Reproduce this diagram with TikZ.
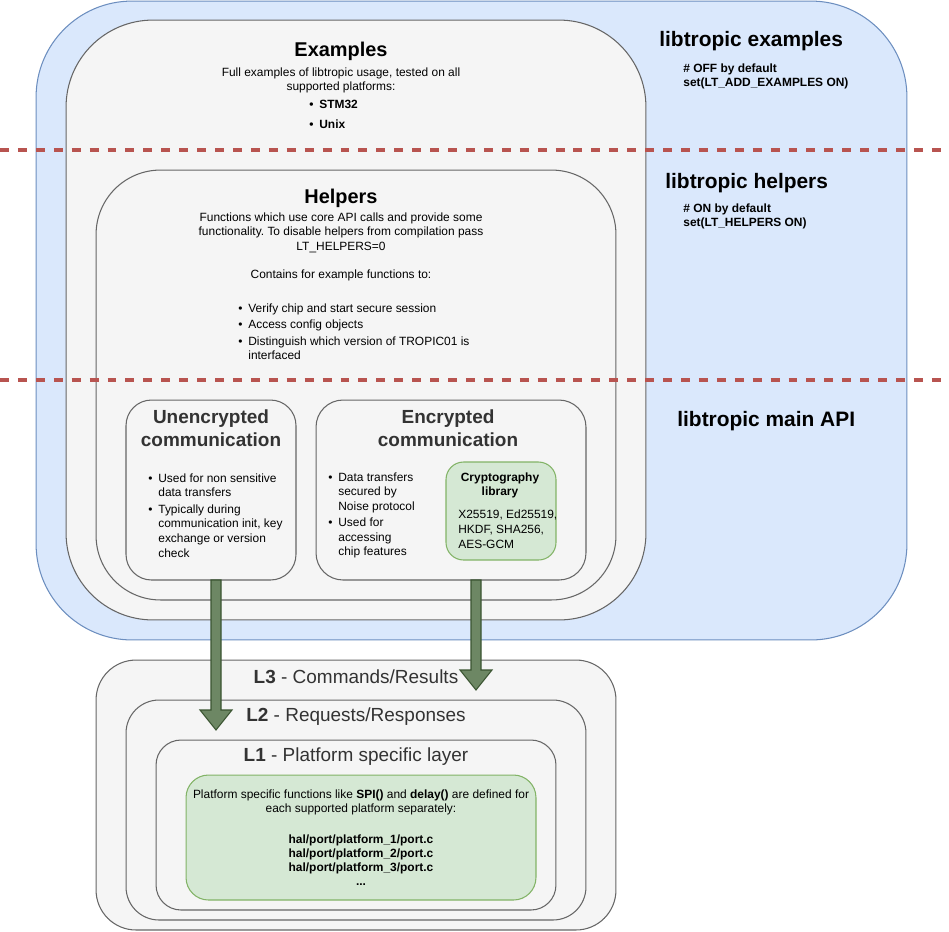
\documentclass[tikz,border=0pt]{standalone}
\usepackage{fontspec}
\setmainfont{Liberation Sans}
\frenchspacing
\usetikzlibrary{calc}

\definecolor{bluefill}{HTML}{DAE8FC}
\definecolor{blueline}{HTML}{6C8EBF}
\definecolor{grayfill}{HTML}{F5F5F5}
\definecolor{grayline}{HTML}{666666}
\definecolor{greenfill}{HTML}{D5E8D4}
\definecolor{greenline}{HTML}{82B366}
\definecolor{flowfill}{HTML}{6D8764}
\definecolor{flowline}{HTML}{3A5431}
\definecolor{redline}{HTML}{B85450}
\definecolor{darktext}{HTML}{333333}

\newcommand{\bul}{\makebox[5.7pt][l]{\textbullet}}
\newcommand{\hang}{\hspace*{5.7pt}}

\tikzset{
  bluebox/.style={draw=blueline, fill=bluefill, line width=0.6pt, inner sep=0, outer sep=0},
  graybox/.style={draw=grayline, fill=grayfill, line width=0.6pt, inner sep=0, outer sep=0},
  greenbox/.style={draw=greenline, fill=greenfill, line width=0.6pt, inner sep=0, outer sep=0},
  flow/.style={draw=flowline, fill=flowfill, line width=0.6pt, line join=miter},
  sepline/.style={draw=redline, line width=1.8pt, dash pattern=on 5.1pt off 5.1pt},
  lbl/.style={inner sep=0, yshift=-0.035cm},
  txt/.style={lbl, font=\fontsize{6.8}{8.3}\selectfont},
  txtb/.style={lbl, font=\bfseries\fontsize{6.8}{8.1}\selectfont},
  bigtitle/.style={lbl, font=\bfseries\fontsize{11.34}{13}\selectfont},
  sidetitle/.style={lbl, font=\bfseries\fontsize{11.9}{13}\selectfont},
  midtitle/.style={lbl, align=center, text=darktext, font=\bfseries\fontsize{10.8}{13}\selectfont},
  layertitle/.style={lbl, text=darktext, font=\fontsize{10.8}{13}\selectfont}
}

\begin{document}
\begin{tikzpicture}[x=0.02cm, y=-0.02cm]
            \useasboundingbox (0,0) rectangle (949,931);

            % the blue area holds everything that is part of libtropic
            \node[bluebox, minimum width=17.42cm, minimum height=12.78cm, rounded corners=1.92cm] (lib) at (471.5,320.5) {};
            \node[graybox, minimum width=11.6cm, minimum height=12cm, rounded corners=1.74cm] (examples) at (356,320) {};
            \node[graybox, minimum width=10.4cm, minimum height=8.6cm, rounded corners=1.29cm] (helpers) at (356,385) {};
            \node[graybox, minimum width=3.4cm, minimum height=3.6cm, rounded corners=0.51cm] (unenc) at (211,490) {};
            \node[graybox, minimum width=5.4cm, minimum height=3.6cm, rounded corners=0.54cm] (enc) at (451,490) {};
            \node[greenbox, minimum width=2.2cm, minimum height=1.96cm, rounded corners=0.35cm] (crypto) at (501,511) {};

            % the three layers below
            \node[graybox, minimum width=10.4cm, minimum height=5.4cm, rounded corners=0.8cm] (lthree) at (356,795) {};
            \node[graybox, minimum width=9.2cm, minimum height=4.4cm, rounded corners=0.66cm] (ltwo) at (356,810) {};
            \node[graybox, minimum width=8cm, minimum height=3.4cm, rounded corners=0.5cm] (lone) at (356,825) {};
            \node[greenbox, minimum width=7cm, minimum height=2.5cm, rounded corners=0.45cm] (port) at (361,837.5) {};

            % labels on the right
            \node[sidetitle, anchor=west] (exlbl) at (659,39) {libtropic examples};
                  \node[txtb, align=left, anchor=west] (exnote) at (683,74.5) {\# OFF by default\\set(LT\_ADD\_EXAMPLES ON)};
            \node[sidetitle, anchor=west] (helplbl) at (665,181) {libtropic helpers};
                  \node[txtb, align=left, anchor=west] (helpnote) at (683,214.5) {\# ON by default\\set(LT\_HELPERS ON)};
            \node[sidetitle, anchor=west] (apilbl) at (677,419) {libtropic main API};

            % examples
            \node[bigtitle] (extitle) at (341,50) {Examples};
            \node[txt, align=center] (exdesc) at (341,78.5) {Full examples of libtropic usage, tested on all\\supported platforms:};
            \node[txtb, align=left, anchor=west] (exlist) at (309,112.5) {\bul STM32\\[3pt]\bul Unix};

            % helpers
            \node[bigtitle] (helptitle) at (341,197) {Helpers};
            \node[txt, align=center] (helpdesc) at (341,231) {Functions which use core API calls and provide some\\functionality. To disable helpers from compilation pass\\LT\_HELPERS=0};
            \node[txt] (helpintro) at (341,274) {Contains for example functions to:};
            \node[txt, align=left, anchor=west] (helplist) at (238,330) {\bul Verify chip and start secure session\\[1pt]\bul Access config objects\\[1pt]\bul Distinguish which version of TROPIC01 is\\\hang interfaced};

            % unencrypted and encrypted communication
            \node[midtitle] (unenctitle) at (211,426.5) {Unencrypted\\communication};
            \node[txt, align=left, anchor=west] (unenclist) at (148,513.5) {\bul Used for non sensitive\\\hang data transfers\\[1.2pt]\bul Typically during\\\hang communication init, key\\\hang exchange or version\\\hang check};
            \node[midtitle] (enctitle) at (448,426.5) {Encrypted\\communication};
            \node[txt, align=left, anchor=west] (enclist) at (328,513.5) {\bul Data transfers\\\hang secured by\\\hang Noise protocol\\[1pt]\bul Used for\\\hang accessing\\\hang chip features};
            \node[txtb, align=center] (cryptotitle) at (500,483.5) {Cryptography\\library};
            \node[txt, align=left, anchor=west] (cryptoalgs) at (458,527.5) {X25519, Ed25519,\\HKDF, SHA256,\\AES-GCM};

            % layer names
            \node[layertitle] (lthreetitle) at (356,675) {\textbf{L3} - Commands/Results};
            \node[layertitle] (ltwotitle) at (356,715) {\textbf{L2} - Requests/Responses};
            \node[layertitle] (lonetitle) at (356,755) {\textbf{L1} - Platform specific layer};
            \node[txt, align=center] (portdesc) at (361,800.5) {Platform specific functions like \textbf{SPI()} and \textbf{delay()} are defined for\\each supported platform separately:};
            \node[txtb, align=center] (portfiles) at (361,858.5) {hal/port/platform\_1/port.c\\hal/port/platform\_2/port.c\\hal/port/platform\_3/port.c\\...};

            % big arrows going down into the layers
            \coordinate (utail) at ([xshift=0.1cm]unenc.south);
            \coordinate (uhead) at (216,730);
            \filldraw[flow] ($(utail)+(-5,0)$) -- ($(uhead)+(-5,-20)$) -- ($(uhead)+(-16,-20)$) -- (uhead)
                  -- ($(uhead)+(16,-20)$) -- ($(uhead)+(5,-20)$) -- ($(utail)+(5,0)$) -- cycle;
            \coordinate (etail) at ([xshift=0.5cm]enc.south);
            \coordinate (ehead) at (476,690);
            \filldraw[flow] ($(etail)+(-5,0)$) -- ($(ehead)+(-5,-20)$) -- ($(ehead)+(-16,-20)$) -- (ehead)
                  -- ($(ehead)+(16,-20)$) -- ($(ehead)+(5,-20)$) -- ($(etail)+(5,0)$) -- cycle;

            % dashed borders between the parts
            \draw[sepline] (0,150) -- (942,150);
            \draw[sepline] (0,380) -- (949,380);
\end{tikzpicture}
\end{document}
